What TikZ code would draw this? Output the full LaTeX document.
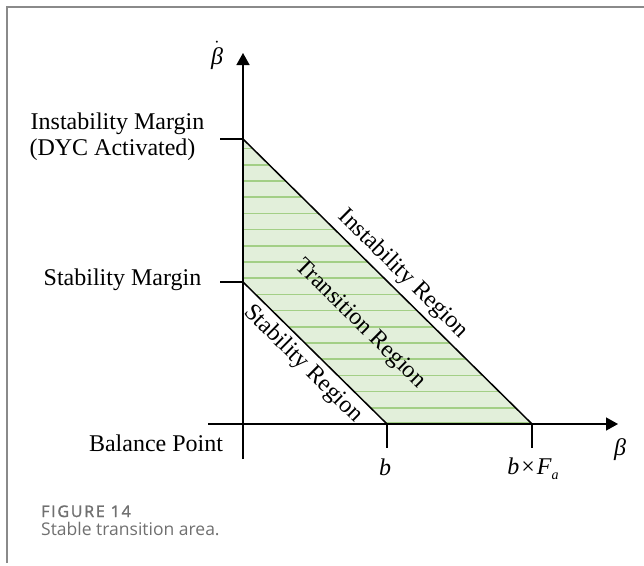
\documentclass[tikz,border=0pt]{standalone}
\usepackage{fontspec}
\setmainfont{Liberation Serif}
\newfontfamily\capfont{Open Sans}
\newfontfamily\figfont[FakeBold=1.5,LetterSpace=11]{Open Sans}
\usetikzlibrary{arrows.meta}
\definecolor{framegray}{HTML}{8A8A8A}
\definecolor{capgray}{HTML}{707070}
\definecolor{areafill}{HTML}{E2EFDA}
\definecolor{hatchgreen}{HTML}{A3CF86}
\tikzset{
  axisline/.style={line width=1.5pt, -{Triangle[length=12pt,width=13pt]}},
  edgeline/.style={line width=1.5pt},
  tickline/.style={line width=1.5pt},
  lbl/.style={inner sep=0pt, font=\fontsize{24}{26}\selectfont},
  rlbl/.style={inner sep=0pt, rotate=-44.6, font=\fontsize{24}{26}\selectfont},
  hatch/.style={draw=hatchgreen, line width=1.5pt},
  framel/.style={draw=framegray, line width=2pt},
  figlbl/.style={inner sep=0pt, anchor=base west, text=capgray},
}
\begin{document}
\begin{tikzpicture}[x=1pt,y=-1pt]
\useasboundingbox (0,0) rectangle (644,565);
% frame
\draw[framel] (7,563) -- (7,7) -- (644,7);
% region
\coordinate (p1) at (243,139);
\coordinate (p2) at (532,424);
\coordinate (p3) at (387,424);
\coordinate (p4) at (243,282);
\fill[areafill] (p1) -- (p2) -- (p3) -- (p4) -- cycle;
\begin{scope}
\clip (p1) -- (p2) -- (p3) -- (p4) -- cycle;
\foreach \k in {1,...,17} {
  \draw[hatch] (243,424-16.2*\k) -- (532,424-16.2*\k);
}
\draw[hatch] (243,422.5) -- (532,422.5);
\end{scope}
\draw[edgeline] (p1) -- (p2);
\draw[edgeline] (p4) -- (p3);
% axes
\coordinate (yb) at (243,459);
\coordinate (yt) at (243,53);
\coordinate (xl) at (208,424);
\coordinate (xr) at (618,424);
\draw[axisline] (yb) -- (yt);
\draw[axisline] (xl) -- (xr);
% ticks
\coordinate (t1a) at (220,139);
\coordinate (t2a) at (220,282);
\coordinate (t3b) at (387,448);
\coordinate (t4a) at (532,424);
\coordinate (t4b) at (532,448);
\coordinate (t1b) at (243,139);
\coordinate (t2b) at (243,282);
\coordinate (t3a) at (387,424);
\draw[tickline] (t1a) -- (t1b);
\draw[tickline] (t2a) -- (t2b);
\draw[tickline] (t3a) -- (t3b);
\draw[tickline] (t4a) -- (t4b);
% labels
\node[lbl, anchor=base] (im1) at (117.5,129) {Instability Margin};
\node[lbl, anchor=base] (im2) at (112.5,155) {(DYC Activated)};
\node[lbl, anchor=base] (sm) at (122.5,285) {Stability Margin};
\node[lbl, anchor=base] (bp) at (156,451) {Balance Point};
\node[lbl, anchor=base] (lb) at (385,475) {\itshape b};
\node[lbl, anchor=base] (lbf) at (533,474) {{\itshape b}\kern2pt×\kern2pt{\itshape F}\raisebox{-5pt}{\fontsize{14}{14}\selectfont\itshape a}};
\node[lbl, anchor=base] (lbeta) at (620,455) {\itshape β};
\node[lbl, anchor=base] (lbdot) at (217,64) {$\dot{\mbox{\itshape β}}$};
\node[rlbl] (ir) at (403,274) {Instability Region};
\node[rlbl] (tr) at (360,324) {Transition Region};
\node[rlbl] (sr) at (303,364) {Stability Region};
% caption
\node[figlbl] (fig) at (41,517) {\figfont\fontsize{16}{18}\selectfont FIGURE 14};
\node[figlbl] (cap) at (41,535) {\capfont\fontsize{17.5}{19}\selectfont Stable transition area.};
\end{tikzpicture}
\end{document}
